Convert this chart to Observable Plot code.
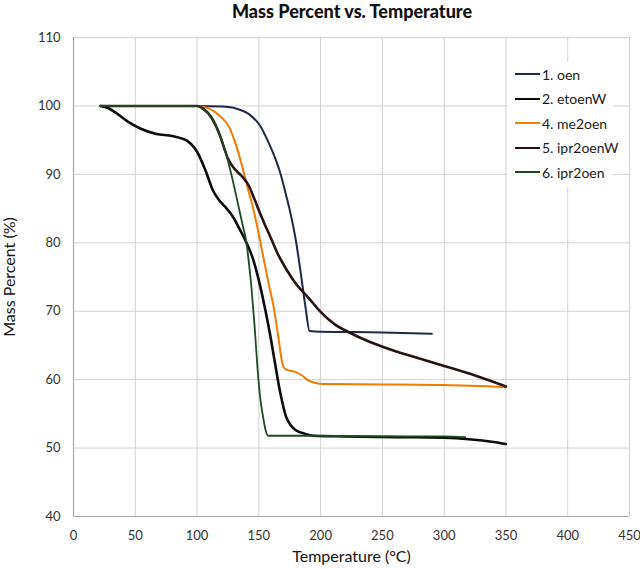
<!DOCTYPE html>
<html>
<head>
<meta charset="utf-8">
<script src="https://cdn.jsdelivr.net/npm/d3@7"></script>
<script src="https://cdn.jsdelivr.net/npm/@observablehq/plot@0.6"></script>
<style>
  body { margin: 0; background: #fff; }
  #wrap { position: relative; width: 640px; height: 569px; font-family: Lato, "Open Sans", sans-serif; }
  #title { height: 26px; line-height: 22px; padding-left: 64px; text-align: center; font-weight: 900; font-size: 18px; color: #111; }
  #legend { position: absolute; left: 507px; top: 62px; width: 106px; height: 126px; background: #fff; }
  .item { position: absolute; left: 8px; height: 20px; display: flex; align-items: center; font-size: 14px; color: #1a1a1a; white-space: nowrap; }
  .swatch { width: 25px; height: 0; margin-right: 2px; }
</style>
</head>
<body>
<div id="wrap">
  <div id="title">Mass Percent vs. Temperature</div>
  <div id="chart"></div>
  <div id="legend"></div>
</div>
<script>
// Thermogravimetric curves: temperature (°C) and remaining mass (%)
const seriesNames = ["1. oen", "2. etoenW", "4. me2oen", "5. ipr2oenW", "6. ipr2oen"];
const seriesColors = ["#1c2a48", "#0b0b0b", "#f47a00", "#2a1212", "#1e4a22"];
const seriesWidths = [2, 2.6, 2, 2.6, 1.8];

const oenT = [22, 60, 100, 120, 132, 142, 151, 159, 164, 168, 172, 176, 180, 184, 188, 191, 200, 250, 290];
const oenM = [100, 100, 100, 99.9, 99.6, 98.8, 97.1, 94.2, 92.0, 89.8, 87.0, 84.0, 80.3, 75.5, 70.3, 67.1, 67.0, 66.9, 66.7];

const etoenWT = [22, 28, 35, 44, 54, 67, 80, 92, 100, 107, 113, 118, 123, 129, 135, 140, 145, 150, 155, 159, 163, 167, 172, 176, 180, 187, 194, 220, 260, 300, 320, 340, 350];
const etoenWM = [100, 99.7, 98.9, 97.7, 96.7, 95.9, 95.6, 94.9, 93.3, 90.5, 87.6, 86.2, 85.2, 83.8, 81.8, 80.0, 77.8, 74.5, 70.4, 66.7, 62.5, 58.4, 54.6, 53.3, 52.6, 52.1, 51.8, 51.7, 51.6, 51.5, 51.3, 50.9, 50.6];

const me2oenT = [22, 60, 100, 110, 118, 126, 131, 136, 141, 146, 150, 154, 158, 162, 165.5, 169, 171, 175, 180, 185, 190, 196, 202, 250, 300, 350];
const me2oenM = [100, 100, 100, 99.6, 98.6, 96.9, 94.6, 91.5, 88.0, 84.6, 81.2, 77.6, 74.0, 70.6, 66.6, 62.4, 61.6, 61.3, 61.1, 60.6, 59.9, 59.5, 59.35, 59.3, 59.2, 58.9];

const ipr2oenWT = [22, 60, 100, 105, 112, 118.5, 122, 125, 129, 133, 137, 142, 146, 151, 155, 159, 165, 172, 180, 190, 200, 212, 222, 240, 260, 280, 300, 325, 350];
const ipr2oenWM = [100, 100, 100, 99.6, 98.2, 95.7, 93.8, 92.3, 91.1, 90.3, 89.6, 88.3, 86.6, 84.3, 82.6, 81.0, 78.5, 76.2, 74.0, 72.0, 69.9, 68.0, 67.0, 65.5, 64.2, 63.1, 62.0, 60.6, 59.0];

const ipr2oenT = [22, 60, 100, 105, 112, 118, 123, 128, 133, 137, 140, 142, 144, 146.5, 149, 151, 153.5, 155.5, 157.5, 170, 200, 250, 300, 317];
const ipr2oenM = [100, 100, 100, 99.5, 98.3, 96.0, 93.3, 89.8, 85.8, 82.5, 80.0, 77.0, 73.5, 68.0, 61.5, 57.5, 54.5, 52.6, 51.8, 51.8, 51.8, 51.7, 51.7, 51.6];

const xTicks = [0, 50, 100, 150, 200, 250, 300, 350, 400, 450];
const yTicks = [40, 50, 60, 70, 80, 90, 100, 110];

const temps = [oenT, etoenWT, me2oenT, ipr2oenWT, ipr2oenT];
const masses = [oenM, etoenWM, me2oenM, ipr2oenWM, ipr2oenM];

const rows = seriesNames.flatMap((name, i) =>
  temps[i].map((t, j) => ({series: name, temp: t, mass: masses[i][j]}))
);

const chart = Plot.plot({
  width: 640,
  height: 543,
  marginTop: 11,
  marginLeft: 73,
  marginRight: 11,
  marginBottom: 53,
  style: {fontFamily: "Lato, 'Open Sans', sans-serif", fontSize: "13px", color: "#333", background: "#fff"},
  x: {domain: [0, 450]},
  y: {domain: [40, 110]},
  marks: [
    Plot.gridX(xTicks, {stroke: "#d2d2d2", strokeOpacity: 1}),
    Plot.gridY(yTicks, {stroke: "#d2d2d2", strokeOpacity: 1}),
    Plot.ruleX([0], {stroke: "#a8a8a8", strokeWidth: 1.2}),
    Plot.ruleY([40], {stroke: "#a8a8a8", strokeWidth: 1.2}),
    ...seriesNames.map((name, i) =>
      Plot.line(rows.filter(d => d.series === name), {
        x: "temp", y: "mass",
        stroke: seriesColors[i], strokeWidth: seriesWidths[i],
        curve: "monotone-x"
      })
    ),
    Plot.axisX(xTicks, {
      tickSize: 0, tickPadding: 14, fontSize: 13,
      label: "Temperature (°C)", labelAnchor: "center", labelArrow: "none", labelOffset: 45
    }),
    Plot.axisY(yTicks, {
      tickSize: 0, tickPadding: 13, fontSize: 13,
      label: "Mass Percent (%)", labelAnchor: "center", labelArrow: "none", labelOffset: 70
    })
  ]
});
// axis titles a little larger than the tick labels
chart.querySelectorAll("g[aria-label='x-axis label'] text, g[aria-label='y-axis label'] text")
  .forEach(t => { t.setAttribute("font-size", "16px"); t.style.fontSize = "16px"; t.setAttribute("fill", "#111"); });
document.getElementById("chart").appendChild(chart);

// legend
const legend = document.getElementById("legend");
seriesNames.forEach((name, i) => {
  const item = document.createElement("div");
  item.className = "item";
  item.style.top = (2 + i * 24.6) + "px";
  const sw = document.createElement("span");
  sw.className = "swatch";
  sw.style.borderTop = `${Math.max(2, seriesWidths[i])}px solid ${seriesColors[i]}`;
  item.appendChild(sw);
  item.appendChild(document.createTextNode(name));
  legend.appendChild(item);
});
</script>
</body>
</html>
